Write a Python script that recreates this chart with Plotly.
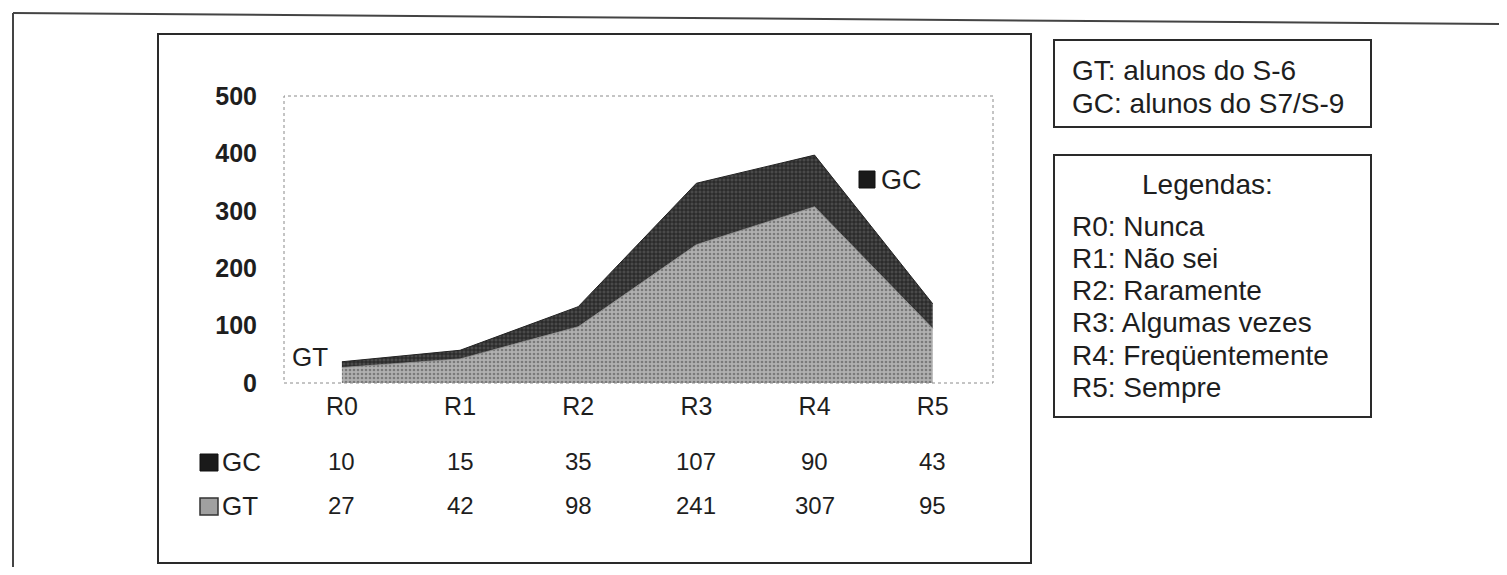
import plotly.graph_objects as go

categories = ["R0", "R1", "R2", "R3", "R4", "R5"]
gc = [10, 15, 35, 107, 90, 43]
gt = [27, 42, 98, 241, 307, 95]
y_ticks = [0, 100, 200, 300, 400, 500]
group_notes = ["GT: alunos do S-6", "GC: alunos do S7/S-9"]
legend_title = "Legendas:"
legend_lines = ["R0: Nunca", "R1: Não sei", "R2: Raramente", "R3: Algumas vezes",
                "R4: Freqüentemente", "R5: Sempre"]

# page has an 8px body margin: the figure itself is drawn inside it
OFF = 8
W, H = 1507 - 2 * OFF, 575 - 2 * OFF
FONT = "Liberation Sans, Arial, Helvetica, sans-serif"
INK = "#1e1e1e"


def px(x):
    return (x - OFF) / W


def py(y):
    return 1 - (y - OFF) / H


fig = go.Figure()
fig.add_trace(go.Scatter(
    x=categories, y=gt, name="GT", stackgroup="one", mode="lines",
    line=dict(width=0.8, color="#8c8c8c"), fillcolor="#a8a8a8",
    fillpattern=dict(shape=".", bgcolor="#b0b0b0", fgcolor="#7a7a7a",
                     size=4, solidity=0.35),
    hoverinfo="x+y"))
fig.add_trace(go.Scatter(
    x=categories, y=gc, name="GC", stackgroup="one", mode="lines",
    line=dict(width=1, color="#222222"), fillcolor="#3e3e3e",
    fillpattern=dict(shape="+", bgcolor="#4a4a4a", fgcolor="#1e1e1e",
                     size=4, solidity=0.4),
    hoverinfo="x+y"))

shapes = []
# outer page frame
shapes.append(dict(type="line", xref="paper", yref="paper", x0=px(13), x1=px(1507),
                   y0=py(13), y1=py(24), line=dict(color="#444", width=2)))
shapes.append(dict(type="line", xref="paper", yref="paper", x0=px(13), x1=px(13),
                   y0=py(13), y1=py(575), line=dict(color="#444", width=2)))
# chart box
shapes.append(dict(type="rect", xref="paper", yref="paper", x0=px(158), x1=px(1031),
                   y0=py(563), y1=py(34), line=dict(color="#2a2a2a", width=2)))
# plot area dotted frame
shapes.append(dict(type="rect", xref="paper", yref="paper", x0=px(284), x1=px(993),
                   y0=py(383), y1=py(96), line=dict(color="#8a8a8a", width=1, dash="dot")))
# table legend squares
shapes.append(dict(type="rect", xref="paper", yref="paper", x0=px(200), x1=px(218),
                   y0=py(471), y1=py(454), fillcolor="#1a1a1a", line=dict(color="#111", width=1)))
shapes.append(dict(type="rect", xref="paper", yref="paper", x0=px(200), x1=px(218),
                   y0=py(515), y1=py(498), fillcolor="#a0a0a0", line=dict(color="#333", width=1.5)))
# GC in-chart label square
shapes.append(dict(type="rect", xref="paper", yref="paper", x0=px(859), x1=px(875),
                   y0=py(188), y1=py(171), fillcolor="#1a1a1a", line=dict(color="#111", width=1)))
# right boxes
shapes.append(dict(type="rect", xref="paper", yref="paper", x0=px(1054), x1=px(1371),
                   y0=py(127), y1=py(40), line=dict(color="#2a2a2a", width=2)))
shapes.append(dict(type="rect", xref="paper", yref="paper", x0=px(1054), x1=px(1371),
                   y0=py(417), y1=py(155), line=dict(color="#2a2a2a", width=2)))

ann = []
# series labels inside chart
ann.append(dict(x=0, y=45, xref="x", yref="y", text="GT", showarrow=False,
                xanchor="right", yanchor="middle", xshift=-12,
                font=dict(family=FONT, size=26, color=INK)))
ann.append(dict(x=px(879), y=py(180), xref="paper", yref="paper",
                text="GC", showarrow=False,
                xanchor="left", yanchor="middle",
                font=dict(family=FONT, size=27, color=INK)))
# data table
for i, c in enumerate(categories):
    ann.append(dict(x=c, y=py(461), xref="x", yref="paper", text=str(gc[i]),
                    showarrow=False, xanchor="center", yanchor="middle",
                    font=dict(family=FONT, size=24, color=INK)))
    ann.append(dict(x=c, y=py(505), xref="x", yref="paper", text=str(gt[i]),
                    showarrow=False, xanchor="center", yanchor="middle",
                    font=dict(family=FONT, size=24, color=INK)))
ann.append(dict(x=px(220), y=py(462), xref="paper", yref="paper", text="GC",
                showarrow=False, xanchor="left", yanchor="middle",
                font=dict(family=FONT, size=26, color=INK)))
ann.append(dict(x=px(220), y=py(506), xref="paper", yref="paper", text="GT",
                showarrow=False, xanchor="left", yanchor="middle",
                font=dict(family=FONT, size=26, color=INK)))

for t, yy in zip(group_notes, [70, 103]):
    ann.append(dict(x=px(1070), y=py(yy), xref="paper", yref="paper", text=t,
                    showarrow=False, xanchor="left", yanchor="middle",
                    font=dict(family=FONT, size=28, color=INK)))
ann.append(dict(x=px(1207), y=py(184), xref="paper", yref="paper", text=legend_title,
                showarrow=False, xanchor="center", yanchor="middle",
                font=dict(family=FONT, size=28, color=INK)))
for i, t in enumerate(legend_lines):
    ann.append(dict(x=px(1070), y=py(226 + 32.3 * i), xref="paper", yref="paper",
                    text=t, showarrow=False, xanchor="left", yanchor="middle",
                    font=dict(family=FONT, size=28, color=INK)))

fig.update_layout(
    template="none",
    width=W, height=H, autosize=False,
    margin=dict(l=0, r=0, t=0, b=0, pad=0),
    paper_bgcolor="white", plot_bgcolor="white",
    showlegend=False,
    shapes=shapes, annotations=ann,
    xaxis=dict(domain=[px(284), px(993)], type="category", range=[-0.49, 5.51],
               showgrid=False, zeroline=False, showline=False, ticks="",
               automargin=False,
               tickfont=dict(family=FONT, size=25, color=INK), ticklabelstandoff=6,
               fixedrange=True),
    yaxis=dict(domain=[py(383), py(96)], range=[0, 500], tickvals=y_ticks,
               showgrid=False, zeroline=False, showline=False, ticks="",
               automargin=False,
               tickfont=dict(family=FONT, size=25, color=INK, weight="bold"),
               ticklabelstandoff=26, fixedrange=True),
)

fig.write_html("out.html")
